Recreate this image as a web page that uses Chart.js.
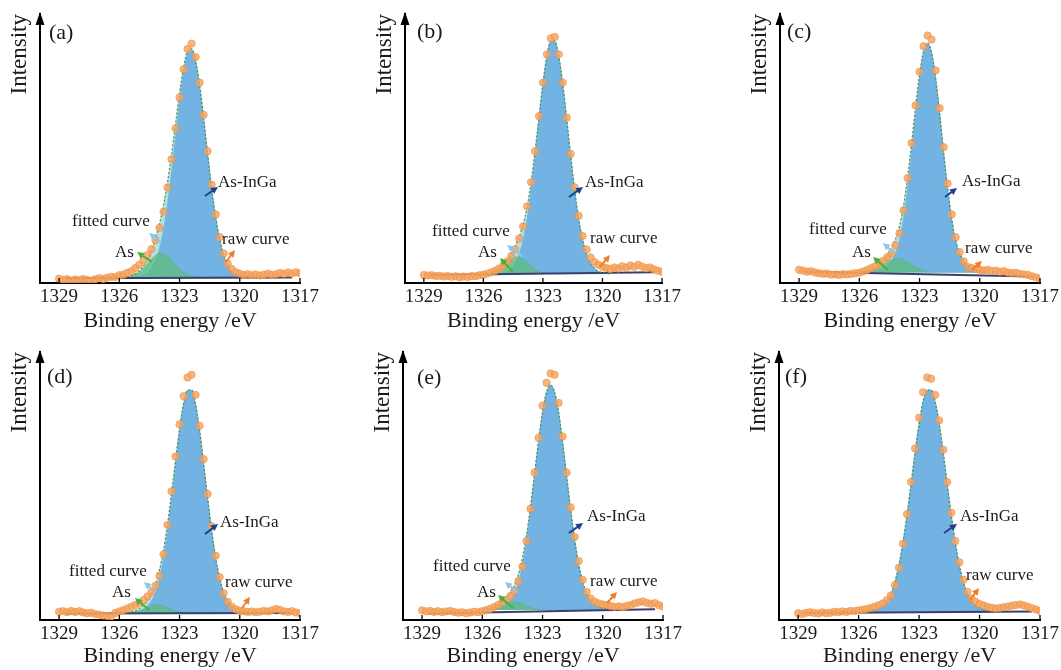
<!DOCTYPE html>
<html>
<head>
<meta charset="utf-8">
<script src="https://cdn.jsdelivr.net/npm/chart.js@4.4.1/dist/chart.umd.min.js"></script>
<style>
  body { margin: 0; background: #fff; }
  #wrap { position: relative; width: 1061px; height: 670px; overflow: hidden; background: #fff; }
  #wrap canvas { position: absolute; }
</style>
</head>
<body>
<div id="wrap"></div>
<script>
// binding energy of the raw spectra (eV)
const energy = [1329.0,1328.8,1328.6,1328.4,1328.2,1328.0,1327.8,1327.6,1327.4,1327.2,1327.0,1326.8,1326.6,1326.4,1326.2,
  1326.0,1325.8,1325.6,1325.4,1325.2,1325.0,1324.8,1324.6,1324.4,1324.2,1324.0,1323.8,1323.6,1323.4,1323.2,1323.0,
  1322.8,1322.6,1322.4,1322.2,1322.0,1321.8,1321.6,1321.4,1321.2,1321.0,1320.8,1320.6,1320.4,1320.2,1320.0,
  1319.8,1319.6,1319.4,1319.2,1319.0,1318.8,1318.6,1318.4,1318.2,1318.0,1317.8,1317.6,1317.4,1317.2,1317.0];
// binding energy of the fitted components (eV)
const fitEnergy = [1326.0,1325.8,1325.6,1325.4,1325.2,1325.0,1324.8,1324.6,1324.4,1324.2,1324.0,1323.8,1323.6,1323.4,
  1323.2,1323.0,1322.8,1322.6,1322.4,1322.2,1322.0,1321.8,1321.6,1321.4,1321.2,1321.0,1320.8,1320.6,1320.4,1320.2,
  1320.0,1319.8,1319.6];
const tickValues = [1329, 1326, 1323, 1320, 1317];
const panelNames = ['(a)', '(b)', '(c)', '(d)', '(e)', '(f)'];

// raw curves (normalised intensity)
const rawA = [1.6,1.2,1.4,0.9,1.3,1.0,1.5,1.1,0.8,1.4,1.8,1.5,2.0,2.3,2.2,2.9,3.1,3.8,4.4,5.6,6.8,8.5,10.4,12.6,
  16.0,20.5,26.5,35.5,46.0,57.5,69.0,79.5,87.0,89.0,84.0,74.5,62.5,49.0,36.5,25.5,17.0,11.0,7.2,5.2,4.0,3.5,
  3.0,3.3,2.9,3.2,2.8,3.1,3.5,3.0,3.3,3.7,3.4,3.9,3.5,4.0,3.6];
const rawB = [3.0,2.8,2.9,2.6,2.7,2.4,2.6,2.3,2.5,2.1,2.4,2.2,2.6,2.5,2.9,3.1,3.5,4.0,4.6,5.4,6.6,8.0,10.0,12.6,
  16.5,21.0,28.5,37.5,49.0,62.0,74.5,85.0,91.0,91.5,85.0,74.5,61.5,48.0,35.5,25.0,17.5,12.5,9.5,7.8,6.8,6.0,
  5.6,5.2,5.8,5.4,6.2,5.7,6.5,6.0,6.8,6.1,5.5,5.8,5.0,4.6,4.2];
const rawC = [4.9,4.6,4.2,4.4,3.9,3.6,3.4,3.5,3.1,3.2,3.0,3.3,3.2,3.4,3.6,3.8,4.3,4.9,5.6,6.2,7.2,8.3,9.6,11.0,
  14.0,18.5,27.0,39.0,52.0,66.0,78.5,88.0,92.0,90.5,79.0,65.0,50.5,37.0,25.5,17.0,11.5,8.0,6.0,5.6,5.2,4.9,
  4.7,4.9,4.5,4.6,4.2,4.4,3.9,3.7,3.8,3.4,3.2,3.0,2.5,2.1,1.6];
const rawD = [3.1,3.3,2.9,3.4,3.0,3.3,2.8,2.5,2.7,2.2,2.0,1.7,1.5,1.3,2.6,3.2,3.7,4.3,5.0,5.6,6.3,7.4,8.8,10.5,
  12.8,16.5,24.5,35.5,48.0,61.0,73.0,83.5,90.5,91.5,84.0,72.5,60.0,47.0,35.0,24.0,16.0,10.0,6.8,5.0,4.0,3.4,
  3.3,3.0,3.2,2.9,3.1,3.4,3.2,3.6,4.1,3.8,3.2,3.0,3.3,2.8,2.5];
const rawE = [3.6,3.2,3.4,3.0,3.3,2.9,3.2,3.4,3.0,2.7,2.9,2.5,2.8,3.1,2.9,3.3,3.7,4.2,4.9,5.7,6.6,7.6,8.9,10.8,
  14.5,20.0,29.5,41.5,55.0,68.0,80.0,88.5,92.0,91.5,81.0,68.5,55.0,42.0,31.0,22.0,15.0,10.5,8.0,6.8,6.2,5.8,
  5.6,5.2,4.9,5.1,4.8,5.3,5.6,6.2,6.6,6.9,6.4,6.0,6.3,5.5,5.0];
const rawF = [2.5,2.2,2.7,2.9,2.6,2.4,2.8,2.5,2.7,3.1,2.9,3.2,3.0,3.4,3.3,3.6,3.8,4.1,4.5,5.0,5.5,6.2,7.4,9.2,
  13.0,19.5,28.5,39.5,51.5,64.0,75.5,85.0,90.5,90.0,84.0,74.5,63.5,51.5,40.0,29.5,21.5,15.0,10.5,8.0,6.8,6.0,
  5.4,4.9,4.6,4.3,4.5,4.8,5.0,5.3,5.6,5.8,5.4,5.0,4.4,3.9,3.4];

// As-InGa component
const inGaA = [2.2,2.2,2.2,2.3,2.3,2.5,2.9,3.8,5.5,8.4,13.0,20.0,29.6,41.3,54.5,67.6,78.4,85.3,86.7,82.5,73.4,61.2,
  47.9,35.1,24.5,16.2,10.4,6.7,4.5,3.3,2.7,2.4,2.3];
const inGaB = [3.4,3.4,3.4,3.5,3.6,3.8,4.3,5.4,7.4,10.8,16.1,23.9,34.4,47.1,60.8,73.8,84.2,89.9,89.9,84.2,73.8,60.8,
  47.1,34.4,23.9,16.1,10.8,7.4,5.4,4.3,3.8,3.6,3.5];
const inGaC = [4.2,4.2,4.2,4.3,4.5,4.8,5.4,6.5,8.2,11.1,15.7,23.9,35.0,48.5,63.1,76.2,85.6,88.9,85.6,76.2,63.1,48.5,
  35.0,23.9,15.7,11.1,8.2,6.5,5.4,4.8,4.5,4.3,4.2];
const inGaD = [2.6,2.7,2.8,2.8,3.0,3.3,4.0,5.2,7.1,10.2,15.5,23.2,33.3,45.4,58.4,70.7,80.4,85.7,85.7,80.4,70.7,58.4,
  45.4,33.3,23.2,15.5,10.2,7.1,5.2,4.0,3.3,3.0,2.8];
const inGaE = [3.9,4.0,4.0,4.2,4.5,5.0,5.9,7.5,9.8,14.3,20.8,29.9,41.1,53.8,66.4,77.5,85.0,87.7,85.0,77.5,66.4,53.8,
  41.1,29.9,20.8,14.3,9.8,7.5,5.9,5.0,4.5,4.2,4.0];
const inGaF = [3.1,3.2,3.3,3.6,3.9,4.5,5.5,7.2,9.7,14.2,20.4,28.8,39.0,50.5,62.4,73.1,81.4,85.8,85.8,81.4,73.1,62.4,
  50.5,39.0,28.8,20.4,14.2,9.7,7.2,5.5,4.5,3.9,3.6];

// As component (none in f)
const asA = [2.2,2.3,2.4,2.7,3.3,4.2,5.5,7.2,8.9,10.4,11.1,11.0,10.0,8.4,6.7,5.1,3.9,3.1,2.6,2.4,2.3,2.2,
  2.2,2.2,2.2,2.2,2.2,2.2,2.2,2.2,2.2,2.2,2.2];
const asB = [3.5,3.6,3.8,4.3,5.1,6.3,7.6,8.9,9.7,9.7,8.9,7.6,6.3,5.1,4.3,3.8,3.6,3.5,3.4,
  3.4,3.4,3.4,3.4,3.4,3.4,3.4,3.4,3.4,3.4,3.4,3.4,3.4,3.4];
const asC = [4.0,4.0,4.2,4.6,5.1,5.9,6.8,7.8,8.6,9.1,9.1,8.6,7.8,6.8,5.9,5.1,4.6,4.2,4.0,4.0,
  3.9,3.9,3.9,3.9,3.9,3.9,3.9,3.9,3.9,3.9,3.9,3.9,3.9];
const asD = [2.5,2.6,2.6,2.8,3.1,3.5,4.1,4.7,5.2,5.6,5.6,5.2,4.7,4.1,3.5,3.1,2.8,2.6,2.6,2.5,
  2.5,2.5,2.5,2.5,2.5,2.5,2.5,2.5,2.5,2.5,2.5,2.5,2.5];
const asE = [3.7,3.8,4.0,4.3,4.8,5.4,6.1,6.6,6.8,6.6,6.1,5.4,4.8,4.3,4.0,3.8,3.7,
  3.7,3.7,3.7,3.7,3.7,3.7,3.7,3.7,3.7,3.7,3.7,3.7,3.7,3.7,3.7,3.7];

// background level under the components, and the drawn background line ends
const background = [2.2, 3.4, 3.9, 2.5, 3.7, 2.9];
const bgLineStart = [1.8, 3.0, 4.2, 2.4, 2.4, 2.6];
const bgLineEnd = [2.0, 4.0, 2.4, 2.6, 4.0, 3.2];
const bgLineRange = [1328.7, 1317.4];

const rawSeries = [rawA, rawB, rawC, rawD, rawE, rawF];
const inGaSeries = [inGaA, inGaB, inGaC, inGaD, inGaE, inGaF];
const asSeries = [asA, asB, asC, asD, asE, null];

// layout: axis origin, top of y axis, right end of x axis (page px)
const layout = [
  { left: 40, bottom: 283, top: 14, right: 300, rowTop: 0, label: [9, 19] },
  { left: 405, bottom: 283, top: 14, right: 662, rowTop: 0, label: [12, 18] },
  { left: 780, bottom: 283, top: 14, right: 1040, rowTop: 0, label: [7, 18] },
  { left: 40, bottom: 620, top: 352, right: 300, rowTop: 335, label: [7, 25] },
  { left: 403, bottom: 620, top: 352, right: 663, rowTop: 335, label: [14, 26] },
  { left: 779, bottom: 620, top: 352, right: 1040, rowTop: 335, label: [6, 25] }
];

// annotations: text pos and arrow tail -> head, px from axis origin (up is +)
const notes = [
  [['As-InGa', 178, 100, 165, 87, 178, 96, '#1f3f8f'], ['fitted curve', 32, 61, 122, 40, 109, 50, '#88c9ec'],
   ['As', 75, 30, 112, 21, 97, 31, '#4caf3a'], ['raw curve', 182, 43, 186, 21, 195, 33, '#f07d2e']],
  [['As-InGa', 180, 100, 164, 86, 178, 96, '#1f3f8f'], ['fitted curve', 27, 51, 118, 26, 102, 38, '#88c9ec'],
   ['As', 73, 30, 108, 11, 95, 25, '#4caf3a'], ['raw curve', 185, 44, 195, 16, 205, 28, '#f07d2e']],
  [['As-InGa', 182, 101, 165, 86, 177, 95, '#1f3f8f'], ['fitted curve', 29, 53, 113, 31, 103, 40, '#88c9ec'],
   ['As', 72, 30, 108, 13, 93, 26, '#4caf3a'], ['raw curve', 185, 34, 192, 13, 202, 22, '#f07d2e']],
  [['As-InGa', 180, 97, 165, 86, 178, 96, '#1f3f8f'], ['fitted curve', 29, 48, 113, 30, 104, 38, '#88c9ec'],
   ['As', 72, 27, 109, 10, 95, 22, '#4caf3a'], ['raw curve', 185, 37, 202, 12, 210, 23, '#f07d2e']],
  [['As-InGa', 184, 103, 166, 87, 180, 97, '#1f3f8f'], ['fitted curve', 30, 53, 114, 28, 102, 38, '#88c9ec'],
   ['As', 74, 27, 110, 12, 95, 25, '#4caf3a'], ['raw curve', 187, 38, 204, 17, 214, 28, '#f07d2e']],
  [['As-InGa', 181, 103, 165, 87, 178, 96, '#1f3f8f'], ['raw curve', 187, 44, 191, 20, 200, 32, '#f07d2e']]
];

const serif = "'Liberation Serif', 'Times New Roman', serif";
const ink = '#1a1a1a';
const wrap = document.getElementById('wrap');

function arrow(ctx, x1, y1, x2, y2, color) {
  const a = Math.atan2(y2 - y1, x2 - x1);
  ctx.strokeStyle = color;
  ctx.fillStyle = color;
  ctx.lineWidth = 2;
  ctx.beginPath();
  ctx.moveTo(x1, y1);
  ctx.lineTo(x2 - 4 * Math.cos(a), y2 - 4 * Math.sin(a));
  ctx.stroke();
  ctx.beginPath();
  ctx.moveTo(x2, y2);
  ctx.lineTo(x2 - 7 * Math.cos(a) + 3.5 * Math.sin(a), y2 - 7 * Math.sin(a) - 3.5 * Math.cos(a));
  ctx.lineTo(x2 - 7 * Math.cos(a) - 3.5 * Math.sin(a), y2 - 7 * Math.sin(a) + 3.5 * Math.cos(a));
  ctx.closePath();
  ctx.fill();
}

panelNames.forEach((name, p) => {
  const L = layout[p];
  const canvas = document.createElement('canvas');
  const w = L.right - L.left + 80;
  canvas.width = w;
  canvas.height = 335;
  canvas.style.left = (L.left - 40) + 'px';
  canvas.style.top = L.rowTop + 'px';
  wrap.appendChild(canvas);

  const bg = background[p];
  const inGa = inGaSeries[p];
  const as = asSeries[p];
  const raw = rawSeries[p];
  const fitted = fitEnergy.map((e, i) => ({ x: e, y: inGa[i] + (as ? as[i] - bg : 0) }));

  const datasets = [
    { data: raw.map((v, i) => ({ x: energy[i], y: v })), showLine: false, pointRadius: 3.7,
      pointBackgroundColor: 'rgba(245,163,92,0.8)', pointBorderColor: 'rgba(238,140,62,0.55)',
      pointBorderWidth: 1, order: 0 },
    { data: fitted, borderColor: 'rgba(72,140,62,0.9)', borderWidth: 1.3, borderDash: [2, 2],
      pointRadius: 0, fill: false, cubicInterpolationMode: 'monotone', order: 1 },
    { data: [{ x: bgLineRange[0], y: bgLineStart[p] }, { x: bgLineRange[1], y: bgLineEnd[p] }],
      borderColor: '#3b3f6e', borderWidth: 2, pointRadius: 0, fill: false, order: 2 }
  ];
  if (as) {
    datasets.push({ data: fitEnergy.map((e, i) => ({ x: e, y: as[i] })), borderColor: 'rgba(80,175,110,0.6)',
      borderWidth: 0.6, backgroundColor: 'rgba(92,188,122,0.72)', pointRadius: 0,
      fill: { value: bg }, cubicInterpolationMode: 'monotone', order: 3 });
  }
  datasets.push({ data: fitEnergy.map((e, i) => ({ x: e, y: inGa[i] })), borderColor: '#72b3e3',
    borderWidth: 0.6, backgroundColor: '#72b3e3', pointRadius: 0,
    fill: { value: bg }, cubicInterpolationMode: 'monotone', order: 4 });
  datasets.push({ data: fitted, borderColor: 'rgba(176,224,226,0.95)', borderWidth: 0.6,
    backgroundColor: 'rgba(176,224,226,0.95)', pointRadius: 0,
    fill: { value: bg }, cubicInterpolationMode: 'monotone', order: 5 });

  const decor = {
    id: 'decor',
    afterDraw(chart) {
      const ctx = chart.ctx;
      const a = chart.chartArea;
      ctx.save();
      // arrow head of the intensity axis
      ctx.fillStyle = '#000';
      ctx.beginPath();
      ctx.moveTo(a.left, a.top - 2);
      ctx.lineTo(a.left - 4.5, a.top + 11);
      ctx.lineTo(a.left + 4.5, a.top + 11);
      ctx.closePath();
      ctx.fill();
      // small inward ticks
      const xs = chart.scales.x;
      ctx.strokeStyle = '#000';
      ctx.lineWidth = 1.3;
      tickValues.forEach(v => {
        const px = xs.getPixelForValue(v);
        ctx.beginPath();
        ctx.moveTo(px, a.bottom);
        ctx.lineTo(px, a.bottom - 5);
        ctx.stroke();
      });
      // panel letter
      ctx.fillStyle = ink;
      ctx.font = '22px ' + serif;
      ctx.textBaseline = 'middle';
      ctx.textAlign = 'left';
      ctx.fillText(name, a.left + L.label[0], a.top + L.label[1]);
      // labels with arrows
      ctx.font = '17px ' + serif;
      notes[p].forEach(n => {
        ctx.fillStyle = ink;
        ctx.fillText(n[0], a.left + n[1], a.bottom - n[2]);
        arrow(ctx, a.left + n[3], a.bottom - n[4], a.left + n[5], a.bottom - n[6], n[7]);
      });
      ctx.restore();
    }
  };

  new Chart(canvas.getContext('2d'), {
    type: 'line',
    data: { datasets },
    options: {
      responsive: false,
      animation: false,
      devicePixelRatio: 1,
      layout: { padding: { left: 0, right: 40, top: L.top - L.rowTop, bottom: 0 } },
      plugins: { legend: { display: false }, tooltip: { enabled: false } },
      scales: {
        x: {
          type: 'linear', reverse: true, min: 1317, max: 1329.95,
          grid: { display: false, drawTicks: false },
          border: { display: true, color: '#000', width: 2 },
          afterBuildTicks: s => { s.ticks = tickValues.map(v => ({ value: v })); },
          afterFit: s => { s.height = L.rowTop + 335 - L.bottom; },
          ticks: { autoSkip: false, maxRotation: 0, padding: 3, color: ink,
            font: { family: serif, size: 19 }, callback: v => String(v) },
          title: { display: true, text: 'Binding energy /eV', color: ink,
            font: { family: serif, size: 22 }, padding: { top: 0, bottom: 1 } }
        },
        y: {
          min: 0, max: 100,
          grid: { display: false, drawTicks: false },
          border: { display: true, color: '#000', width: 2 },
          ticks: { display: false },
          afterFit: s => { s.width = 40; },
          title: { display: true, text: 'Intensity', align: 'end', color: ink,
            font: { family: serif, size: 23 }, padding: { top: 6, bottom: 0 } }
        }
      }
    },
    plugins: [decor]
  });
});
</script>
</body>
</html>
